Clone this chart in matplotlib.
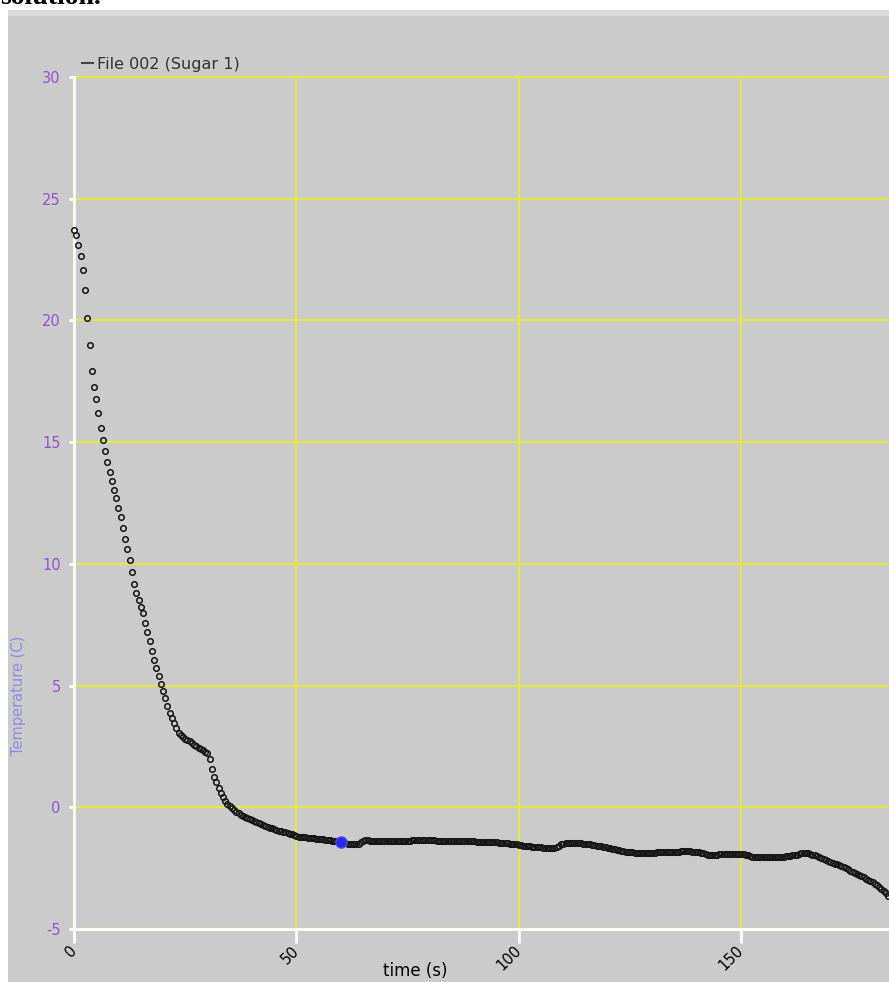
import numpy as np
import matplotlib
matplotlib.use("Agg")
import matplotlib.pyplot as plt
from matplotlib.lines import Line2D
from matplotlib.patches import Rectangle

plt.rcParams["axes.unicode_minus"] = False

TIME_STEP = 0.5
temp_c = [
    23.70, 23.49, 23.11, 22.66, 22.06, 21.23, 20.11, 18.99, 17.94, 17.28,
    16.77, 16.21, 15.57, 15.08, 14.63, 14.17, 13.76, 13.39, 13.02, 12.69,
    12.31, 11.91, 11.47, 11.03, 10.59, 10.14, 9.68, 9.19, 8.81, 8.53,
    8.23, 7.98, 7.57, 7.22, 6.85, 6.44, 6.06, 5.72, 5.41, 5.07,
    4.79, 4.50, 4.15, 3.88, 3.66, 3.45, 3.25, 3.05, 2.95, 2.88,
    2.82, 2.77, 2.71, 2.64, 2.57, 2.50, 2.45, 2.40, 2.34, 2.29,
    2.22, 1.97, 1.58, 1.25, 1.03, 0.81, 0.59, 0.42, 0.26, 0.15,
    0.05, -0.04, -0.11, -0.18, -0.24, -0.30, -0.35, -0.40, -0.44, -0.48,
    -0.52, -0.57, -0.61, -0.65, -0.69, -0.73, -0.77, -0.80, -0.84, -0.87,
    -0.90, -0.93, -0.96, -0.99, -1.01, -1.03, -1.05, -1.08, -1.11, -1.14,
    -1.18, -1.21, -1.22, -1.23, -1.24, -1.25, -1.26, -1.27, -1.28, -1.29,
    -1.30, -1.31, -1.32, -1.33, -1.35, -1.36, -1.38, -1.39, -1.40, -1.42,
    -1.43, -1.45, -1.47, -1.49, -1.50, -1.51, -1.52, -1.52, -1.49, -1.42,
    -1.37, -1.36, -1.36, -1.37, -1.37, -1.38, -1.39, -1.40, -1.40, -1.40,
    -1.40, -1.40, -1.40, -1.39, -1.39, -1.39, -1.38, -1.38, -1.38, -1.37,
    -1.37, -1.37, -1.36, -1.36, -1.36, -1.35, -1.35, -1.35, -1.35, -1.35,
    -1.36, -1.36, -1.36, -1.37, -1.37, -1.37, -1.38, -1.38, -1.38, -1.38,
    -1.38, -1.38, -1.39, -1.39, -1.39, -1.39, -1.40, -1.40, -1.40, -1.40,
    -1.40, -1.41, -1.41, -1.41, -1.42, -1.42, -1.42, -1.43, -1.43, -1.44,
    -1.44, -1.45, -1.45, -1.46, -1.47, -1.48, -1.49, -1.50, -1.51, -1.52,
    -1.53, -1.55, -1.57, -1.59, -1.60, -1.61, -1.62, -1.63, -1.64, -1.65,
    -1.65, -1.66, -1.66, -1.66, -1.66, -1.66, -1.66, -1.65, -1.60, -1.52,
    -1.49, -1.48, -1.48, -1.48, -1.48, -1.48, -1.48, -1.48, -1.48, -1.49,
    -1.49, -1.50, -1.51, -1.53, -1.55, -1.57, -1.59, -1.61, -1.63, -1.65,
    -1.67, -1.69, -1.71, -1.73, -1.75, -1.77, -1.79, -1.80, -1.82, -1.83,
    -1.84, -1.85, -1.86, -1.87, -1.88, -1.88, -1.88, -1.88, -1.87, -1.87,
    -1.86, -1.86, -1.85, -1.85, -1.85, -1.84, -1.84, -1.84, -1.83, -1.83,
    -1.83, -1.82, -1.82, -1.81, -1.80, -1.80, -1.80, -1.81, -1.83, -1.85,
    -1.85, -1.85, -1.86, -1.88, -1.92, -1.95, -1.97, -1.98, -1.97, -1.95,
    -1.93, -1.92, -1.91, -1.91, -1.90, -1.90, -1.90, -1.90, -1.91, -1.91,
    -1.91, -1.92, -1.95, -1.98, -2.01, -2.03, -2.04, -2.05, -2.05, -2.05,
    -2.05, -2.05, -2.05, -2.05, -2.05, -2.05, -2.05, -2.05, -2.04, -2.03,
    -2.02, -2.01, -2.00, -1.98, -1.96, -1.94, -1.91, -1.89, -1.88, -1.88,
    -1.89, -1.91, -1.94, -1.97, -2.00, -2.04, -2.08, -2.12, -2.16, -2.20,
    -2.23, -2.27, -2.31, -2.35, -2.39, -2.42, -2.46, -2.50, -2.55, -2.60,
    -2.64, -2.69, -2.73, -2.78, -2.82, -2.87, -2.93, -2.98, -3.03, -3.08,
    -3.14, -3.20, -3.27, -3.34, -3.42, -3.52, -3.65,
]
time_s = np.arange(len(temp_c)) * TIME_STEP

# highlighted reading
cursor_t = 60.0
cursor_temp = -1.43

x_ticks = [0, 50, 100, 150]
y_ticks = [-5, 0, 5, 10, 15, 20, 25, 30]
series_name = "File 002 (Sugar 1)"

W, H = 889, 982
fig = plt.figure(figsize=(W / 100, H / 100), dpi=100, facecolor="white")

# screenshot backdrop: grey panel with a thin lighter band on top
fig.patches.append(Rectangle((8 / W, 0), 1, (H - 16) / H, transform=fig.transFigure,
                             facecolor="#cbcbcb", edgecolor="none", zorder=-5))
fig.patches.append(Rectangle((8 / W, (H - 16) / H), 1, 6 / H, transform=fig.transFigure,
                             facecolor="#d9d9d9", edgecolor="none", zorder=-5))
fig.text(0.0, (H - 4) / H, "solution.", fontsize=20, family="Liberation Serif",
         weight="bold", va="baseline", ha="left", color="black", zorder=-4)

ax = fig.add_axes([74 / W, (H - 929) / H, (W - 74) / W, (929 - 77) / H])
ax.set_facecolor("none")
ax.set_xlim(0, 183.2)
ax.set_ylim(-5, 30)

ax.plot(time_s, temp_c, ls="none", marker="o", ms=4.0, mfc="none",
        mec="#151515", mew=1.1, zorder=3, clip_on=False)
ax.plot([cursor_t], [cursor_temp], marker="o", ms=8, color="#2a2ae0",
        mec="#4848ff", mew=1, zorder=4)

ax.set_xticks(x_ticks)
ax.set_yticks(y_ticks)
ax.grid(True, color="#e6e64a", lw=1.6)
ax.set_axisbelow(True)
for gl in ax.get_xgridlines() + ax.get_ygridlines():
    gl.set_clip_on(False)

for side in ("top", "right"):
    ax.spines[side].set_visible(False)
for side in ("left", "bottom"):
    ax.spines[side].set_color("white")
    ax.spines[side].set_linewidth(2)

ax.tick_params(axis="x", direction="out", length=10, width=2, color="white",
               labelsize=10.5, labelcolor="black", pad=4)
ax.tick_params(axis="y", direction="out", length=3.5, width=2, color="white",
               labelsize=10.5, labelcolor="#9550d4", pad=6)
for lbl in ax.get_xticklabels():
    lbl.set_rotation(45)
    lbl.set_ha("right")
    lbl.set_va("center")
    lbl.set_rotation_mode("anchor")

fig.text(415 / W, 1 - 971 / H, "time (s)", fontsize=12, color="black",
         ha="center", va="center")
fig.text(18.5 / W, 1 - 695 / H, "Temperature (C)", fontsize=10.5, color="#8c8ce8",
         rotation=90, ha="center", va="center")

ax.legend(handles=[Line2D([], [], color="#444444", lw=1.5)], labels=[series_name],
          loc="lower left", bbox_to_anchor=(74 / W, 1 - 80 / H),
          bbox_transform=fig.transFigure, frameon=False, fontsize=11.5,
          handlelength=0.7, handletextpad=0.25, borderpad=0, labelcolor="#333333")

fig.savefig("out.png", dpi=100, facecolor=fig.get_facecolor())
